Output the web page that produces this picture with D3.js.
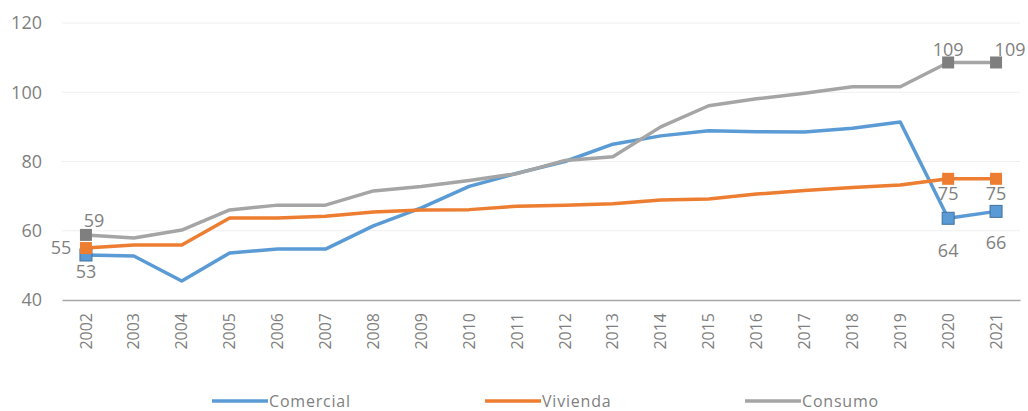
<!DOCTYPE html>
<html>
<head>
<meta charset="utf-8">
<script src="https://cdn.jsdelivr.net/npm/d3@7"></script>
<style>
  body { margin: 0; background: #fff; }
  text { font-family: "Open Sans", "Noto Sans", sans-serif; }
</style>
</head>
<body>
<div id="main"></div>
<script>
const years = ["2002","2003","2004","2005","2006","2007","2008","2009","2010","2011",
  "2012","2013","2014","2015","2016","2017","2018","2019","2020","2021"];
const comercial = [53, 52.7, 45.5, 53.6, 54.7, 54.7, 61.4, 66.6, 72.8, 76.6,
  80, 85, 87.4, 88.9, 88.6, 88.5, 89.6, 91.4, 63.6, 65.6];
const vivienda = [55, 55.9, 55.9, 63.7, 63.7, 64.2, 65.4, 66, 66.1, 67.1,
  67.4, 67.8, 68.9, 69.2, 70.6, 71.6, 72.5, 73.2, 75, 75];
const consumo = [58.8, 57.9, 60.2, 66, 67.4, 67.4, 71.5, 72.8, 74.5, 76.5,
  80.3, 81.4, 90, 96.1, 98.1, 99.7, 101.6, 101.6, 108.6, 108.6];
const yTicks = [40, 60, 80, 100, 120];
// points that carry a marker and a value label
const labelled = [0, 18, 19];

let margin = {top: 23, right: 8, bottom: 111, left: 62};
let width = 1028 - margin.left - margin.right;
let height = 411 - margin.top - margin.bottom;

let x = d3.scaleBand().domain(years).range([0, width]);
let y = d3.scaleLinear().domain([40, 120]).range([height, 0]);

const series = [
  {name: "Comercial", values: comercial, color: "#5B9BD5", marker: "#5B9BD5", stroke: "#41719C",
    labelDy: [17, 32, 31], labelDx: [0, 0, 0]},
  {name: "Vivienda", values: vivienda, color: "#ED7D31", marker: "#ED7D31", stroke: "none",
    labelDy: [0, 15, 15], labelDx: [-25, 0, 0]},
  {name: "Consumo", values: consumo, color: "#A5A5A5", marker: "#7F7F7F", stroke: "none",
    labelDy: [-14, -13, -13], labelDx: [8, 0, 14]}
];

let svg = d3.select("#main")
  .append("svg")
    .attr("width", 1028)
    .attr("height", 411)
  .append("g")
    .attr("transform", `translate(${margin.left}, ${margin.top})`);

// gridlines
svg.append("g")
  .selectAll("line")
  .data(yTicks.slice(1))
  .enter()
  .append("line")
    .attr("x1", 0).attr("x2", width)
    .attr("y1", d => y(d)).attr("y2", d => y(d))
    .style("stroke", "#efefef");

// y tick labels
svg.append("g")
  .selectAll("text")
  .data(yTicks)
  .enter()
  .append("text")
    .attr("x", -20)
    .attr("y", d => y(d))
    .attr("dy", "0.35em")
    .attr("text-anchor", "end")
    .style("font-size", "18px")
    .style("fill", "#7f7f7f")
    .text(d => d);

// x axis
let xAxis = svg.append("g")
  .attr("transform", `translate(0,${height})`)
  .call(d3.axisBottom(x).tickSize(0).tickPadding(0));
xAxis.select(".domain").style("stroke", "#a6a6a6").style("stroke-width", 1.5);
xAxis.selectAll("text")
  .attr("transform", "rotate(-90)")
  .attr("x", -13)
  .attr("y", 0)
  .attr("dy", "0.35em")
  .attr("text-anchor", "end")
  .style("font-size", "16px")
  .style("font-family", "'Open Sans', sans-serif")
  .style("fill", "#7f7f7f");

const line = d3.line()
  .x((d, i) => x(years[i]) + x.bandwidth() / 2)
  .y(d => y(d));

// lines
svg.append("g")
  .selectAll("path")
  .data(series)
  .enter()
  .append("path")
    .attr("d", d => line(d.values))
    .style("fill", "none")
    .style("stroke", d => d.color)
    .style("stroke-width", 3.5)
    .style("stroke-linejoin", "round");

// markers + labels
series.forEach(s => {
  let g = svg.append("g");
  g.selectAll("rect")
    .data(labelled)
    .enter()
    .append("rect")
      .attr("x", i => x(years[i]) + x.bandwidth() / 2 - 6)
      .attr("y", i => y(s.values[i]) - 6)
      .attr("width", 12)
      .attr("height", 12)
      .style("fill", s.marker)
      .style("stroke", s.stroke);
  g.selectAll("text")
    .data(labelled)
    .enter()
    .append("text")
      .attr("x", (i, k) => x(years[i]) + x.bandwidth() / 2 + s.labelDx[k])
      .attr("y", (i, k) => y(s.values[i]) + s.labelDy[k])
      .attr("dy", "0.35em")
      .attr("text-anchor", "middle")
      .style("font-size", "18px")
      .style("fill", "#7f7f7f")
      .text(i => Math.round(s.values[i]));
});

// legend
let legend = svg.append("g")
  .attr("transform", `translate(0, ${height + 101})`);
const legendX = [150, 423, 683];
series.forEach((s, i) => {
  legend.append("line")
    .attr("x1", legendX[i]).attr("x2", legendX[i] + 56)
    .style("stroke", s.color)
    .style("stroke-width", 3.5);
  legend.append("text")
    .attr("x", legendX[i] + 57)
    .attr("dy", "0.35em")
    .style("font-size", "16px")
    .style("letter-spacing", "0.8px")
    .style("fill", "#7f7f7f")
    .text(s.name);
});
</script>
</body>
</html>
